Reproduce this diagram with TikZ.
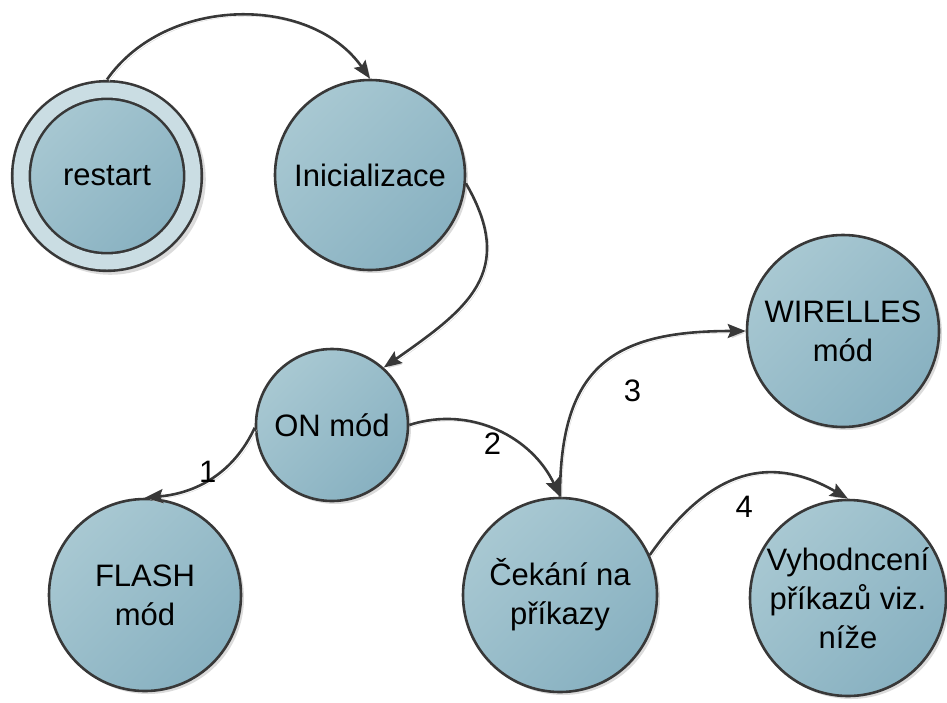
\documentclass[tikz,border=0pt]{standalone}
\usepackage{fontspec}
\setmainfont{Liberation Sans}
\usetikzlibrary{arrows.meta}
\usetikzlibrary{shadows}
\usetikzlibrary{positioning}

\definecolor{stateup}{HTML}{A8C8D2}
\definecolor{statedown}{HTML}{88B1C1}
\definecolor{ringfill}{HTML}{CADDE3}
\definecolor{darkline}{HTML}{383838}

\tikzset{
  state/.style={circle, draw=darkline, line width=2.6pt, inner sep=0pt, align=center,
    top color=stateup, bottom color=statedown, shading angle=45,
    drop shadow={shadow xshift=3pt, shadow yshift=-3pt, fill=black!14, opacity=1}},
  startstate/.style={state, double=ringfill, double distance=15pt, outer sep=10.5pt,
    drop shadow={shadow xshift=3pt, shadow yshift=-3pt, shadow scale=1.11, fill=black!14, opacity=1}},
  trans/.style={every edge/.style={draw=darkline, line width=2.6pt,
    -{Stealth[length=18pt, width=14pt, inset=3pt]},
    preaction={draw=black!16, transform canvas={shift={(2pt,-2pt)}}}}}
}

\begin{document}
\begin{tikzpicture}[x=1pt, y=1pt, font=\fontsize{31}{39}\selectfont]
  \useasboundingbox (0,0) rectangle (947,-702);
  \node [startstate, minimum size=172] (restart) at (107,-176) {restart};
  \node [state, minimum size=190] (init) at (370,-175) {Inicializace};
  \node [state, minimum size=152] (on) at (332,-425) {ON mód};
  \node [state, minimum size=192] (flash) at (145,-595) {FLASH\\mód};
  \node [state, minimum size=194] (wait) at (560,-595) {Čekání na\\příkazy};
  \node [state, minimum size=192] (wireless) at (843,-331) {WIRELLES\\mód};
  \node [state, minimum size=196] (eval) at (848,-598) {Vyhodncení\\příkazů viz.\\níže};
  \path[trans]
    (restart.north) edge [out=55, in=125] (init.north)
    (init.-5) edge [out=-60, in=35, looseness=1.3] (on.48)
    (on.182) edge [out=-115, in=5] node [pos=0.5, above left=-6pt, xshift=6pt, yshift=-5pt] {1} (flash.north)
    (on.east) edge [out=18, in=115] node [pos=0.5, below, xshift=-5pt, yshift=3pt] {2} (wait.north)
    (wait.north) edge [out=90, in=180, looseness=1.35] node [pos=0.5, xshift=29pt, yshift=-26pt] {3} (wireless.west)
    (wait.24) edge [out=55, in=150, looseness=1.2] node [pos=0.5, below=12pt, xshift=6pt] {4} (eval.north);
\end{tikzpicture}
\end{document}
